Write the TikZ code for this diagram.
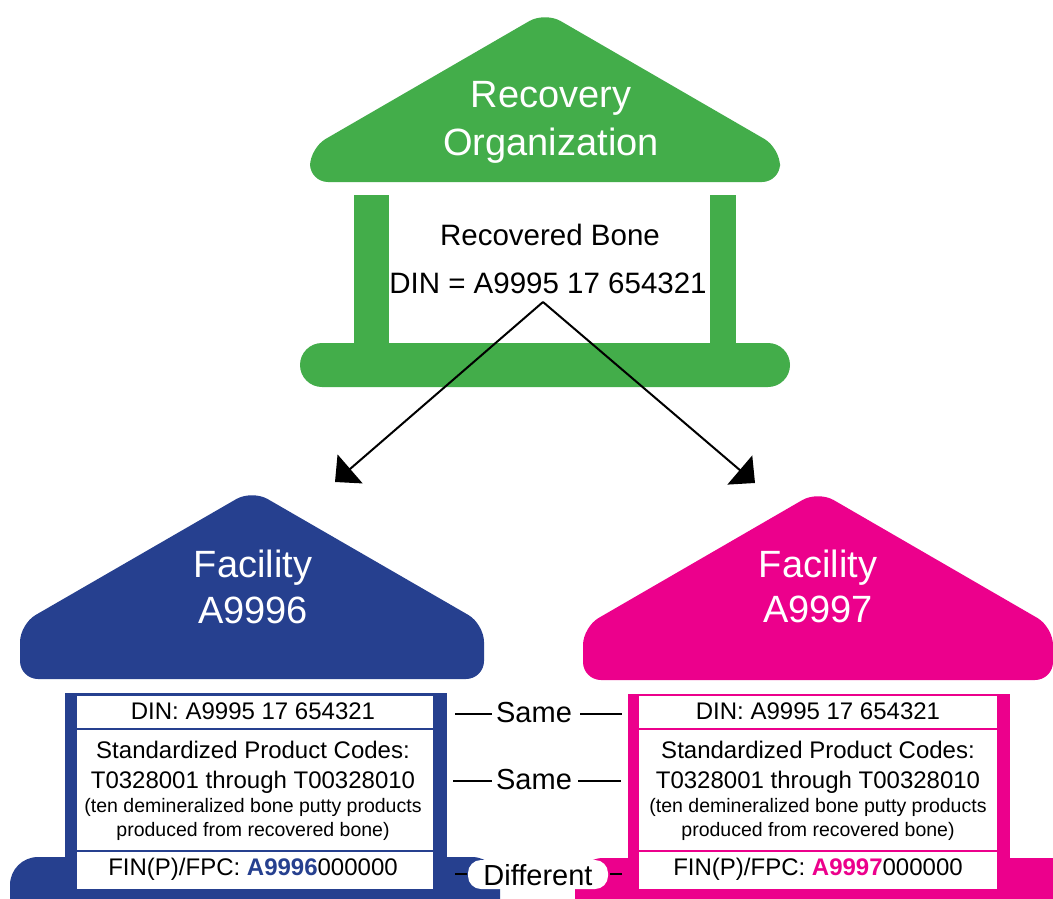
\documentclass[tikz,border=0pt]{standalone}
\usepackage{fontspec}
\setmainfont{Liberation Sans}
\usetikzlibrary{arrows.meta}
\definecolor{rgreen}{RGB}{67,173,74}
\definecolor{fblue}{RGB}{38,64,143}
\definecolor{fpink}{RGB}{236,0,140}
\tikzset{
  roofT/.style={text=white, font=\fontsize{38bp}{44bp}\selectfont, inner sep=0pt, anchor=base},
  bigT/.style={font=\fontsize{29.5bp}{34bp}\selectfont, inner sep=0pt, anchor=base},
  cellT/.style={font=\fontsize{24bp}{28bp}\selectfont, inner sep=0pt, anchor=base},
  smallT/.style={font=\fontsize{19.5bp}{23bp}\selectfont, inner sep=0pt, anchor=base},
  lblT/.style={font=\fontsize{29bp}{34bp}\selectfont, inner sep=0pt, anchor=base},
  arr/.style={line width=2bp, -{Triangle[length=20bp,width=38bp]}},
  dashln/.style={line width=2bp},
  cellbox/.style={fill=white},
}
\begin{document}
\begin{tikzpicture}[x=1bp,y=-1bp]
\useasboundingbox (0,0) rectangle (1053,899);
\clip (0,0) rectangle (1053,899);
\fill[white] (0,0) rectangle (1053,899);

% ---------- Recovery organization (green) ----------
\fill[rgreen, rounded corners=18bp] (310,182) -- (310,148) -- (545,12) -- (780,148) -- (780,182) -- cycle;
\fill[rgreen] (354,195) rectangle (389,350);
\fill[rgreen] (710,195) rectangle (736,350);
\fill[rgreen, rounded corners=22bp] (300,343) rectangle (790,387);
\node[roofT] (ro1) at (551,107) {Recovery};
\node[roofT] (ro2) at (551,155) {Organization};
\node[bigT] (rb) at (550,245) {Recovered Bone};
\node[bigT] (din) at (548,293) {DIN = A9995 17 654321};

% ---------- Facility A9996 (blue) ----------
\fill[fblue, rounded corners=18bp] (20,679) -- (20,624) -- (252,490) -- (484,624) -- (484,679) -- cycle;
\fill[fblue] (65,693) rectangle (447,920);
\fill[fblue, rounded corners=28bp] (10,857) rectangle (500,960);
\fill[cellbox] (77,696) rectangle (433,728);
\fill[cellbox] (77,730) rectangle (433,850);
\fill[cellbox] (77,852) rectangle (433,889);
\node[roofT] (fa1) at (253,577) {Facility};
\node[roofT] (fa2) at (253,623) {A9996};
\node[cellT] (adin) at (253,719) {DIN: A9995 17 654321};
\node[cellT] (aspc) at (253,758) {Standardized Product Codes:};
\node[cellT] (athr) at (253,788) {T0328001 through T00328010};
\node[smallT] (aten) at (253,812) {(ten demineralized bone putty products};
\node[smallT] (apro) at (253,836) {produced from recovered bone)};
\node[cellT] (afin) at (253,875) {FIN(P)/FPC: \textbf{\textcolor{fblue}{A9996}}000000};

% ---------- Facility A9997 (pink) ----------
\fill[fpink, rounded corners=18bp] (583,680) -- (583,627) -- (818,491) -- (1053,627) -- (1053,680) -- cycle;
\fill[fpink] (628,694) rectangle (1010,920);
\fill[fpink, rounded corners=28bp] (575,858) rectangle (1100,960);
\fill[cellbox] (639,696) rectangle (997,728);
\fill[cellbox] (639,730) rectangle (997,850);
\fill[cellbox] (639,852) rectangle (997,889);
\node[roofT] (fb1) at (818,577) {Facility};
\node[roofT] (fb2) at (818,622) {A9997};
\node[cellT] (bdin) at (818,719) {DIN: A9995 17 654321};
\node[cellT] (bspc) at (818,758) {Standardized Product Codes:};
\node[cellT] (bthr) at (818,788) {T0328001 through T00328010};
\node[smallT] (bten) at (818,812) {(ten demineralized bone putty products};
\node[smallT] (bpro) at (818,836) {produced from recovered bone)};
\node[cellT] (bfin) at (818,875) {FIN(P)/FPC: \textbf{\textcolor{fpink}{A9997}}000000};

% ---------- arrows ----------
\coordinate (src) at (543,302);
\coordinate (ltip) at (335,482);
\coordinate (rtip) at (755,483);
\draw[arr] (src) -- (ltip);
\draw[arr] (src) -- (rtip);

% ---------- comparison labels ----------
\node[lblT] (same1) at (534,722) {Same};
\node[lblT] (same2) at (534,789) {Same};
\fill[white, rounded corners=13bp] (468,860) rectangle (608,889);
\node[lblT] (diff) at (538,885) {Different};
\coordinate (s1a) at (455,714); \coordinate (s1b) at (492,714);
\coordinate (s1c) at (580,714); \coordinate (s1d) at (622,714);
\coordinate (s2a) at (453,781); \coordinate (s2b) at (492,781);
\coordinate (s2c) at (578,781); \coordinate (s2d) at (621,781);
\coordinate (d1a) at (455,874); \coordinate (d1b) at (467,874);
\coordinate (d1c) at (610,874); \coordinate (d1d) at (622,874);
\draw[dashln] (s1a) -- (s1b);
\draw[dashln] (s1c) -- (s1d);
\draw[dashln] (s2a) -- (s2b);
\draw[dashln] (s2c) -- (s2d);
\draw[dashln] (d1a) -- (d1b);
\draw[dashln] (d1c) -- (d1d);
\end{tikzpicture}
\end{document}
